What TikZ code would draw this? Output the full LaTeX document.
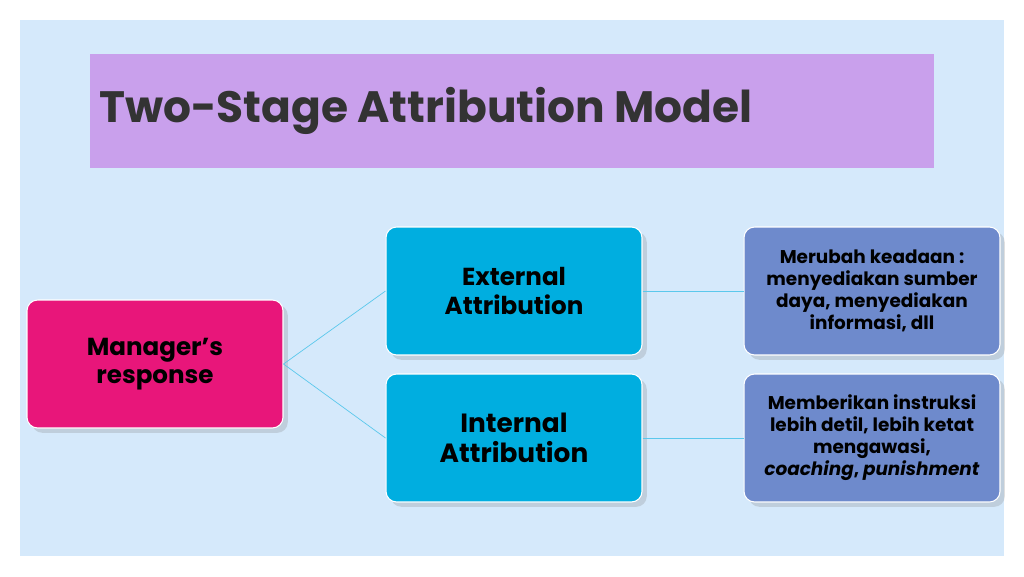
\documentclass[tikz,border=0pt]{standalone}
\usepackage{fontspec}
\setmainfont{Poppins}
\usetikzlibrary{positioning,shadows}
\definecolor{panel}{HTML}{D5E9FB}
\definecolor{titlebg}{HTML}{C9A0EC}
\definecolor{mgr}{HTML}{E8167A}
\definecolor{attr}{HTML}{00AEE0}
\definecolor{act}{HTML}{6E8ACC}
\definecolor{link}{HTML}{5BC8EC}
\tikzset{
  box/.style={rounded corners=6pt, minimum width=5.12cm, minimum height=2.56cm,
    align=center, draw=white, line width=0.6pt, drop shadow={opacity=0.25}},
  actbox/.style={box, fill=act, font=\fontsize{10.5}{12.5}\selectfont\bfseries},
}
\begin{document}
\begin{tikzpicture}[x=0.02cm, y=-0.02cm]
            \useasboundingbox (0,0) rectangle (1024,576);
            % Background
            \fill[white] (0,0) rectangle (1024,576);
            \fill[panel] (20,20) rectangle (1004,556);
            \fill[titlebg] (90,54) rectangle (934,168);
            \node[anchor=west, text=black!80, font=\fontsize{25}{30}\selectfont\bfseries] (title) at (93,111) {Two-Stage Attribution Model};

            % Nodes
            \node[box, fill=mgr, font=\fontsize{14}{16}\selectfont\bfseries] (manager) at (155,364) {Manager’s\\response};
            \node[box, fill=attr, font=\fontsize{14}{16}\selectfont\bfseries] (external) at (514,291) {External\\Attribution};
            \node[box, fill=attr, font=\fontsize{15}{17}\selectfont\bfseries] (internal) at (514,438) {Internal\\Attribution};
            \node[actbox] (change) at (872,291) {Merubah keadaan :\\menyediakan sumber\\daya, menyediakan\\informasi, dll};
            \node[actbox] (instruct) at (872,438) {Memberikan instruksi\\lebih detil, lebih ketat\\mengawasi,\\\textit{coaching}, \textit{punishment}};

            % Lines
            \draw[link, thin] (manager.east) -- (external.west);
            \draw[link, thin] (manager.east) -- (internal.west);
            \draw[link, thin] (external.east) -- (change.west);
            \draw[link, thin] (internal.east) -- (instruct.west);
\end{tikzpicture}
\end{document}
